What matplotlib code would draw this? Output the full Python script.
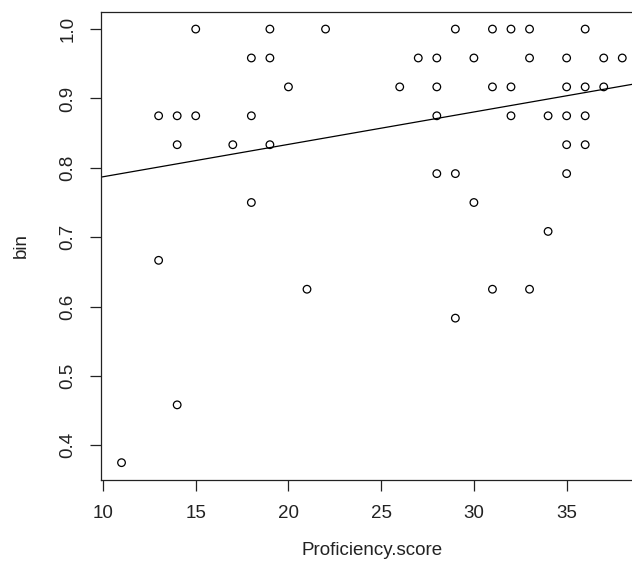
import numpy as np
import matplotlib
matplotlib.use("Agg")
import matplotlib.pyplot as plt

plt.rcParams['font.family'] = ['Liberation Sans', 'DejaVu Sans']

# scores grouped by bin value (bin values are multiples of 1/24)
bin_1000 = [15, 19, 22, 29, 31, 32, 33, 36]
bin_0958 = [18, 19, 27, 28, 30, 33, 35, 37, 38]
bin_0917 = [20, 26, 28, 31, 32, 35, 36, 37]
bin_0875 = [13, 14, 15, 18, 28, 32, 34, 35, 36]
bin_0833 = [14, 17, 19, 35, 36]
bin_0792 = [28, 29, 35]
bin_0750 = [18, 30]
bin_0708 = [34]
bin_0667 = [13]
bin_0625 = [21, 31, 33]
bin_0583 = [29]
bin_0458 = [14]
bin_0375 = [11]

groups = [
    (24, bin_1000), (23, bin_0958), (22, bin_0917), (21, bin_0875),
    (20, bin_0833), (19, bin_0792), (18, bin_0750), (17, bin_0708),
    (16, bin_0667), (15, bin_0625), (14, bin_0583), (11, bin_0458),
    (9, bin_0375),
]
score = np.array([s for k, xs in groups for s in xs], dtype=float)
binv = np.array([k / 24 for k, xs in groups for s in xs])

# fitted line (some points overlap, so refitting differs)
fit_intercept = 0.7404
fit_slope = 0.00467

xticks = [10, 15, 20, 25, 30, 35]
yticks = [0.4, 0.5, 0.6, 0.7, 0.8, 0.9, 1.0]

fig = plt.figure(figsize=(6.32, 5.75), dpi=100)
ax = fig.add_axes([0.1606, 0.1652, 0.8557, 0.8144])

ax.scatter(score, binv, s=30, facecolors='none', edgecolors='black', linewidths=0.9, zorder=3)
ax.axline((0, fit_intercept), slope=fit_slope, color='black', lw=0.9)

# R style 4% padding
xr = score.max() - score.min()
yr = binv.max() - binv.min()
ax.set_xlim(score.min() - 0.04 * xr, score.max() + 0.04 * xr)
ax.set_ylim(binv.min() - 0.04 * yr, binv.max() + 0.04 * yr)

ax.set_xticks(xticks)
ax.set_yticks(yticks)
ax.set_yticklabels([f'{v:.1f}' for v in yticks], rotation=90, va='center')
ax.tick_params(direction='out', length=8, width=0.9, labelsize=13.5, colors='#222222')
ax.tick_params(axis='x', pad=10)
ax.tick_params(axis='y', pad=10)
for sp in ax.spines.values():
    sp.set_linewidth(0.9)
    sp.set_color('#222222')

ax.set_xlabel('Proficiency.score', fontsize=13.5, color='#222222')
ax.set_ylabel('bin', fontsize=13.5, color='#222222')
ax.xaxis.label.set_va('center')
ax.yaxis.label.set_va('center')
ax.xaxis.set_label_coords(0.5, -0.15)
ax.yaxis.set_label_coords(-0.149, 0.5)

fig.savefig('out.png', dpi=100)
